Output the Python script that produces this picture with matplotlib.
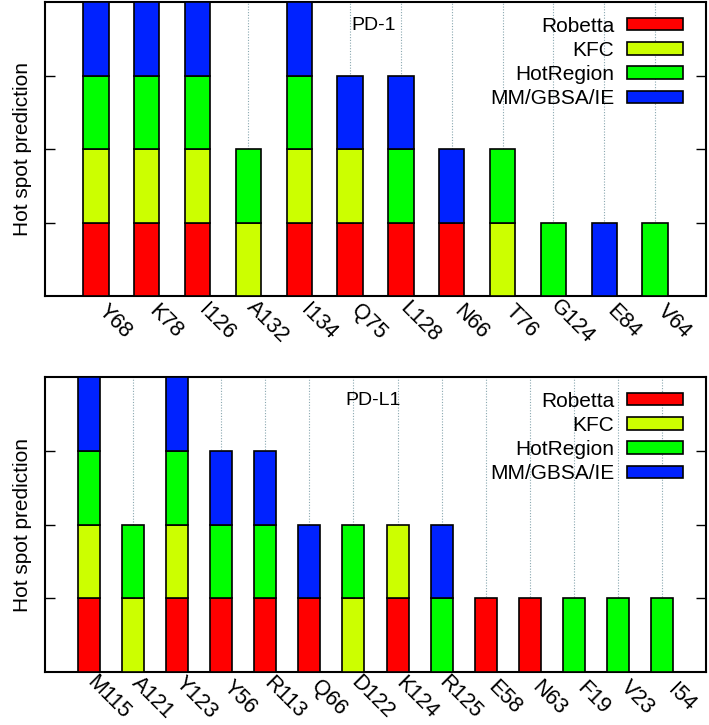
import matplotlib.pyplot as plt
import numpy as np
from matplotlib.patches import Patch

plt.rcParams['font.family'] = ['Liberation Sans', 'DejaVu Sans']

methods = ["Robetta", "KFC", "HotRegion", "MM/GBSA/IE"]
colors = ["#ff0000", "#ccff00", "#00ff00", "#0022ff"]

# 1 = predicted as hot spot by the method
pd1_res = ["Y68", "K78", "I126", "A132", "I134", "Q75", "L128", "N66", "T76", "G124", "E84", "V64"]
pd1_robetta = [1, 1, 1, 0, 1, 1, 1, 1, 0, 0, 0, 0]
pd1_kfc     = [1, 1, 1, 1, 1, 1, 0, 0, 1, 0, 0, 0]
pd1_hotreg  = [1, 1, 1, 1, 1, 0, 1, 0, 1, 1, 0, 1]
pd1_mmgbsa  = [1, 1, 1, 0, 1, 1, 1, 1, 0, 0, 1, 0]

pdl1_res = ["M115", "A121", "Y123", "Y56", "R113", "Q66", "D122", "K124", "R125", "E58", "N63", "F19", "V23", "I54"]
pdl1_robetta = [1, 0, 1, 1, 1, 1, 0, 1, 0, 1, 1, 0, 0, 0]
pdl1_kfc     = [1, 1, 1, 0, 0, 0, 1, 1, 0, 0, 0, 0, 0, 0]
pdl1_hotreg  = [1, 1, 1, 1, 1, 0, 1, 0, 1, 0, 0, 1, 1, 1]
pdl1_mmgbsa  = [1, 0, 1, 1, 1, 1, 0, 0, 1, 0, 0, 0, 0, 0]


def draw(ax, res, series, title, title_x):
    x = np.arange(len(res))
    bottom = np.zeros(len(res))
    for vals, c in zip(series, colors):
        vals = np.array(vals, dtype=float)
        mask = vals > 0
        ax.bar(x[mask], vals[mask], 0.5, bottom=bottom[mask], color=c,
               edgecolor="black", linewidth=1.2, zorder=3)
        bottom += vals
    ax.set_xlim(-1, len(res))
    ax.set_ylim(0, 4)
    ax.set_yticks([1, 2, 3])
    ax.set_yticklabels([])
    ax.set_xticks(x)
    ax.set_xticklabels([])
    # gnuplot-style labels: centred, below-right of each tick
    for xi, name in zip(x, res):
        ax.annotate(name, (xi, 0), xycoords=("data", "axes fraction"),
                    xytext=(13.7, -18.5), textcoords="offset points",
                    rotation=-45, rotation_mode="anchor", ha="center", va="center",
                    fontsize=15.5, annotation_clip=False)
    ax.tick_params(axis="x", length=0, pad=0)
    ax.tick_params(axis="y", direction="in", length=7, right=True, width=1)
    ax.grid(axis="x", color="#8aa8b0", linestyle=(0, (1, 1.5)), linewidth=0.8, zorder=0)
    for s in ax.spines.values():
        s.set_linewidth(1.5)
    ax.set_ylabel("Hot spot prediction", fontsize=15, labelpad=6)
    ax.text(title_x, 3.68, title, fontsize=14, ha="left", va="center", zorder=5)
    handles = [Patch(facecolor=c, edgecolor="black", linewidth=1.2) for c in colors]
    ax.legend(handles, methods, loc="upper right", frameon=False, markerfirst=False,
              fontsize=15, handlelength=2.7, handleheight=0.55, labelspacing=0.25,
              borderaxespad=0.3, handletextpad=0.6, bbox_to_anchor=(0.987, 1.0))


fig = plt.figure(figsize=(7.09, 7.25), dpi=100)
ax1 = fig.add_axes([45 / 709, 1 - 296 / 725, 661 / 709, 294 / 725])
ax2 = fig.add_axes([45 / 709, 1 - 672 / 725, 661 / 709, 295 / 725])

draw(ax1, pd1_res, [pd1_robetta, pd1_kfc, pd1_hotreg, pd1_mmgbsa], "PD-1", 5.02)
draw(ax2, pdl1_res, [pdl1_robetta, pdl1_kfc, pdl1_hotreg, pdl1_mmgbsa], "PD-L1", 5.82)

fig.savefig("out.png", dpi=100)
